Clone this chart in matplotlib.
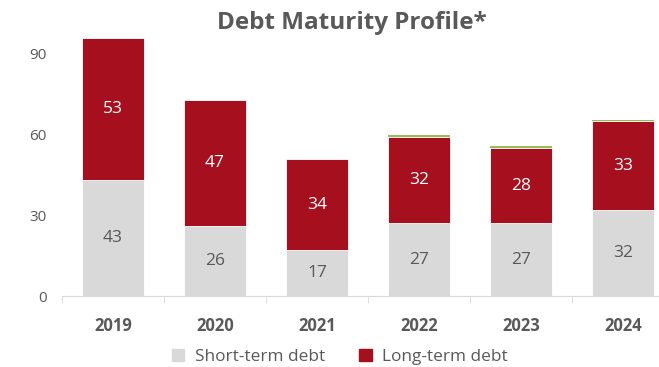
import numpy as np
import matplotlib.pyplot as plt
from matplotlib.patches import Patch

# datos
anios = ["2019", "2020", "2021", "2022", "2023", "2024"]
deuda_corto = [43, 26, 17, 27, 27, 32]
deuda_largo = [53, 47, 34, 32, 28, 33]
otros = [0, 0, 0, 0.7, 0.7, 0.6]

gris_texto = "#595959"
color_corto = "#d9d9d9"
color_largo = "#a50f1e"
color_otros = "#9bbb59"

plt.rcParams["font.family"] = ["Open Sans", "DejaVu Sans"]

fig = plt.figure(figsize=(6.59, 3.67), dpi=100)
ax = fig.add_axes([62 / 659, 1 - 296 / 367, 612 / 659, 269 / 367])

x = np.arange(len(anios))
ancho = 0.6
corto = np.array(deuda_corto)
largo = np.array(deuda_largo)

ax.bar(x, corto, ancho, color=color_corto, edgecolor="white", linewidth=0.6)
ax.bar(x, largo, ancho, bottom=corto, color=color_largo, edgecolor="white", linewidth=0.6)
ax.bar(x, otros, ancho, bottom=corto + largo, color=color_otros, linewidth=0)

for i in range(len(anios)):
    ax.text(x[i], corto[i] / 2, str(deuda_corto[i]), ha="center", va="center",
            fontsize=12.5, color=gris_texto)
    ax.text(x[i], corto[i] + largo[i] / 2, str(deuda_largo[i]), ha="center", va="center",
            fontsize=12.5, color="white")

ax.set_xlim(-0.5, len(anios) - 0.5)
ax.set_ylim(0, 100)
ax.set_yticks([0, 30, 60, 90])
ax.tick_params(axis="y", length=0, labelsize=11, labelcolor=gris_texto, pad=11)

ax.set_xticks(x)
ax.set_xticklabels(anios, fontsize=12, fontweight="bold", color=gris_texto)
ax.tick_params(axis="x", which="major", length=0, pad=15)
ax.set_xticks(np.arange(len(anios) + 1) - 0.5, minor=True)
ax.tick_params(axis="x", which="minor", length=5, color="#d9d9d9", direction="out")

for lado in ["top", "right", "left"]:
    ax.spines[lado].set_visible(False)
ax.spines["bottom"].set_color("#d9d9d9")

fig.text(352 / 659, 1 - 23 / 367, "Debt Maturity Profile*", ha="center", va="center",
         fontsize=17.5, fontweight="bold", color=gris_texto)

handles = [Patch(color=color_corto, label="Short-term debt"),
           Patch(color=color_largo, label="Long-term debt")]
fig.legend(handles=handles, loc="center", bbox_to_anchor=(340 / 659, 1 - 357 / 367), ncol=2,
           frameon=False, fontsize=12.4, labelcolor=gris_texto, handlelength=0.7,
           handleheight=0.7, columnspacing=2.0, handletextpad=0.6)

fig.savefig("out.png", dpi=100)
